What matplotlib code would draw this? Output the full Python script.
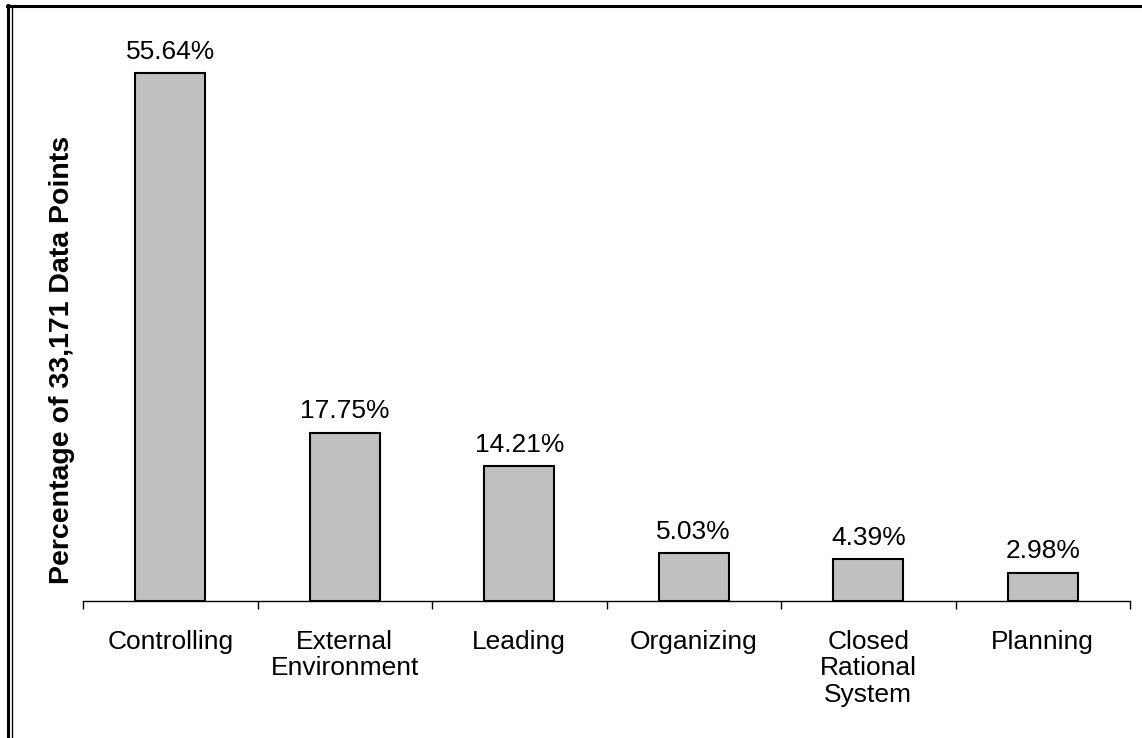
import matplotlib
matplotlib.use("Agg")
import matplotlib.pyplot as plt
from matplotlib.lines import Line2D

categories = ["Controlling", "External\nEnvironment", "Leading", "Organizing",
              "Closed\nRational\nSystem", "Planning"]
values = [55.64, 17.75, 14.21, 5.03, 4.39, 2.98]
ylabel = "Percentage of 33,171 Data Points"

plt.rcParams["font.family"] = ["Liberation Sans", "DejaVu Sans"]

W, H = 1142, 738
fig = plt.figure(figsize=(W / 100, H / 100), dpi=100)
fig.patch.set_facecolor("white")

ax = fig.add_axes([83 / W, 1 - 601 / H, (1130 - 83) / W, (601 - 32) / H])
x = list(range(len(values)))
ax.bar(x, values, width=0.4, color="#c0c0c0", edgecolor="black", linewidth=1.5, zorder=3)

for xi, v in zip(x, values):
    ax.annotate(f"{v:.2f}%", (xi, v), xytext=(0, 7), textcoords="offset points",
                ha="center", va="bottom", fontsize=19)

ax.set_xlim(-0.5, len(values) - 0.5)
ax.set_ylim(0, 60)
for s in ["top", "right", "left"]:
    ax.spines[s].set_visible(False)
ax.spines["bottom"].set_linewidth(1.0)
ax.set_yticks([])
ax.set_xticks([i - 0.5 for i in range(len(values) + 1)])
ax.set_xticklabels([])
ax.set_xticks(x, minor=True)
ax.set_xticklabels(categories, minor=True, fontsize=19, linespacing=1.12, va="top")
ax.tick_params(axis="x", which="major", direction="out", length=6, width=1.0)
ax.tick_params(axis="x", which="minor", length=0, pad=21)

fig.text(62 / W, 1 - 360 / H, ylabel, rotation=90, ha="center", va="center",
         fontsize=20.5, fontweight="bold")

# frame around the chart: heavy top/left rule with a thin inner rule
fig.add_artist(Line2D([7 / W, 1], [1 - 6 / H, 1 - 6 / H], color="black", linewidth=2.2))
fig.add_artist(Line2D([8 / W, 8 / W], [0, 1 - 5 / H], color="black", linewidth=2.2))
fig.add_artist(Line2D([11.5 / W, 11.5 / W], [0, 1 - 7 / H], color="black", linewidth=1.0))

fig.savefig("out.png", dpi=100, facecolor="white")
